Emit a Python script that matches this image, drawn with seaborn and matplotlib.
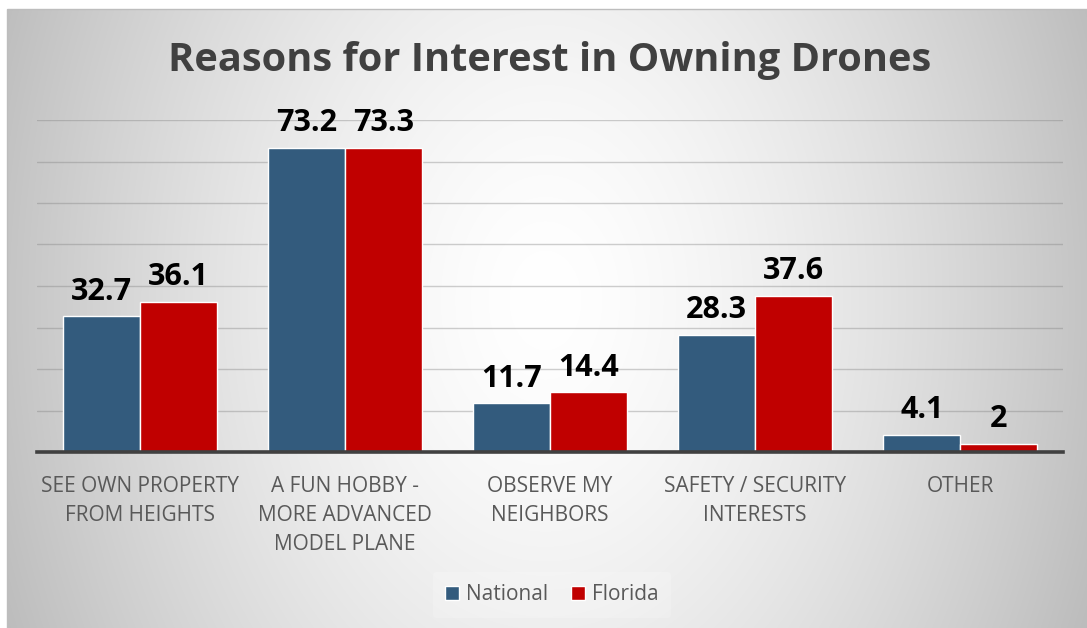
import numpy as np
import pandas as pd
import matplotlib
matplotlib.use("Agg")
import matplotlib.pyplot as plt
from matplotlib.patches import Rectangle
import seaborn as sns

# ---- data ----
reasons = [
    "SEE OWN PROPERTY\nFROM HEIGHTS",
    "A FUN HOBBY -\nMORE ADVANCED\nMODEL PLANE",
    "OBSERVE MY\nNEIGHBORS",
    "SAFETY / SECURITY\nINTERESTS",
    "OTHER",
]
national = [32.7, 73.2, 11.7, 28.3, 4.1]
florida = [36.1, 73.3, 14.4, 37.6, 2]
series_names = ["National", "Florida"]
series_colors = ["#335b7d", "#c00000"]

df = pd.DataFrame({
    "reason": reasons * 2,
    "value": national + florida,
    "series": [series_names[0]] * len(reasons) + [series_names[1]] * len(reasons),
})

sns.set_theme(style="white")
plt.rcParams["font.family"] = ["Open Sans", "DejaVu Sans"]

W, H = 1087, 628
fig = plt.figure(figsize=(W / 100, H / 100), dpi=100)

# ---- radial gradient background inside the chart frame ----
bg = fig.add_axes([0, 0, 1, 1], zorder=-10)
yy, xx = np.mgrid[0:H, 0:W]
d = np.sqrt(((xx - 545) / 560.0) ** 2 + ((yy - 300) / 780.0) ** 2)
shade = np.clip(255 - 62 * d ** 1.5, 185, 255) / 255.0
frame_l, frame_t = 7, 9
shade[:frame_t, :] = 1.0
shade[:, :frame_l] = 1.0
img = np.dstack([shade, shade, shade])
bg.imshow(img, extent=(0, W, H, 0), aspect="auto", interpolation="bilinear")
bg.add_patch(Rectangle((frame_l, frame_t), W - frame_l + 5, H - frame_t + 5,
                       fill=False, edgecolor="#bdbdbd", lw=1.0))
bg.set_xlim(0, W)
bg.set_ylim(H, 0)
bg.axis("off")

# ---- bar chart ----
ax = fig.add_axes([37 / W, 176 / H, (1063 - 37) / W, (508 - 176) / H])
ax.patch.set_alpha(0)
sns.barplot(data=df, x="reason", y="value", hue="series", hue_order=series_names,
            palette=series_colors, saturation=1, width=0.75,
            edgecolor="white", linewidth=1.0, ax=ax, zorder=3)

ax.set_xlim(-0.5, len(reasons) - 0.5)
ax.set_ylim(0, 80)
ax.set_yticks(np.arange(10, 81, 10))
ax.yaxis.grid(True, color="#808080", alpha=0.38, lw=1.0)
ax.set_axisbelow(True)
ax.tick_params(axis="y", left=False, labelleft=False)
ax.tick_params(axis="x", bottom=False, pad=11, labelsize=15, labelcolor="#595959")
for lbl in ax.get_xticklabels():
    lbl.set_linespacing(1.52)
ax.set_xlabel("")
ax.set_ylabel("")
for s in ["top", "right", "left"]:
    ax.spines[s].set_visible(False)
ax.spines["bottom"].set_color("#404040")
ax.spines["bottom"].set_linewidth(2.6)
ax.spines["bottom"].set_zorder(5)

for cont in ax.containers:
    ax.bar_label(cont, fmt="{:g}", padding=7, fontsize=22, fontweight="bold",
                 color="black")

handles, labels = ax.get_legend_handles_labels()
ax.get_legend().remove()
leg = fig.legend(handles, labels, loc="center", bbox_to_anchor=(552 / W, 1 - 595 / H),
                 ncol=2, frameon=True, fontsize=15, handlelength=0.65, handleheight=0.65,
                 handletextpad=0.35, columnspacing=1.1, borderpad=0.6)
leg.get_frame().set_facecolor("white")
leg.get_frame().set_alpha(0.2)
leg.get_frame().set_edgecolor("none")
for t in leg.get_texts():
    t.set_color("#595959")

fig.text(550 / W, 1 - 61 / H, "Reasons for Interest in Owning Drones",
         ha="center", va="center", fontsize=28.6, fontweight="bold", color="#404040")

fig.savefig("out.png", dpi=100)
